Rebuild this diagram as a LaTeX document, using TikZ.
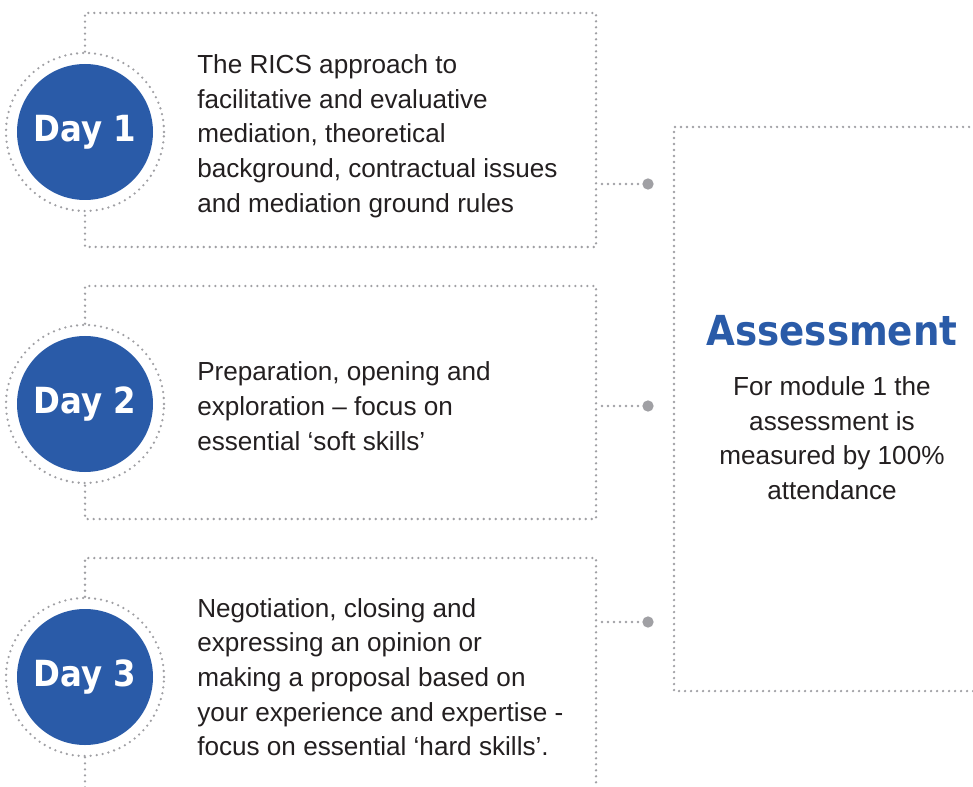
\documentclass[tikz,border=0pt]{standalone}
\usepackage{fontspec}
\setmainfont{Liberation Sans}
\newfontfamily\dayfont{DejaVu Sans Condensed}
\usepackage{tikz}
\usetikzlibrary{positioning}

\definecolor{dayblue}{RGB}{42,91,168}
\definecolor{dotgrey}{RGB}{160,160,164}
\definecolor{bodytext}{RGB}{35,31,32}

\tikzset{
  dotline/.style={draw=dotgrey, line width=1.9pt, line cap=round, dash pattern=on 0pt off 4.5pt},
  daycircle/.style={circle, fill=dayblue, minimum size=102pt, inner sep=0pt, text=white,
    font=\dayfont\bfseries\fontsize{27}{30}\selectfont},
  dayring/.style={circle, dotline, minimum size=118.5pt, inner sep=0pt},
  daytext/.style={anchor=west, align=left, inner sep=0pt, text=bodytext,
    font=\fontsize{19.6}{26}\selectfont},
  enddot/.style={circle, fill=dotgrey, minimum size=8.5pt, inner sep=0pt}
}

\begin{document}
\begin{tikzpicture}[x=0.75pt,y=0.75pt,yscale=-1]
  \useasboundingbox (0,0) rectangle (973,787);

  % day circles
  \node [dayring] (ring1) at (85,132) {};
  \node [daycircle] (day1) at (85,132) {Day 1};
  \node [dayring] (ring2) at (85,404) {};
  \node [daycircle] (day2) at (85,404) {Day 2};
  \node [dayring] (ring3) at (85,677) {};
  \node [daycircle] (day3) at (85,677) {Day 3};

  % boxes
  \draw [dotline] (ring1.north) -- (85,13) -- (596,13) -- (596,247) -- (85,247) -- (ring1.south);
  \draw [dotline] (ring2.north) -- (85,286) -- (596,286) -- (596,519) -- (85,519) -- (ring2.south);
  \draw [dotline] (ring3.north) -- (85,558) -- (596,558) -- (596,790);
  \draw [dotline] (ring3.south) -- (85,790);
  \draw [dotline] (975,127) -- (674,127) -- (674,691) -- (975,691);

  % texts
  \node [daytext] (text1) at (197,136) {The RICS approach to\\facilitative and evaluative\\mediation, theoretical\\background, contractual issues\\and mediation ground rules};
  \node [daytext] (text2) at (197,406) {Preparation, opening and\\exploration -- focus on\\essential ‘soft skills’};
  \node [daytext] (text3) at (197,677) {Negotiation, closing and\\expressing an opinion or\\making a proposal based on\\your experience and expertise -\\focus on essential ‘hard skills’.};

  \node [text=dayblue, font=\dayfont\bfseries\fontsize{31}{34}\selectfont] (assess) at (832,331) {Assessment};
  \node [daytext, anchor=center, align=center] (assesstext) at (832,438) {For module 1 the\\assessment is\\measured by 100\%\\attendance};

  % connectors
  \coordinate (c1) at (602,184);
  \coordinate (c2) at (602,406);
  \coordinate (c3) at (602,622);
  \node [enddot] (d1) at (648,184) {};
  \node [enddot] (d2) at (648,406) {};
  \node [enddot] (d3) at (648,622) {};
  \draw [dotline] (c1) -- (d1);
  \draw [dotline] (c2) -- (d2);
  \draw [dotline] (c3) -- (d3);

\end{tikzpicture}
\end{document}
